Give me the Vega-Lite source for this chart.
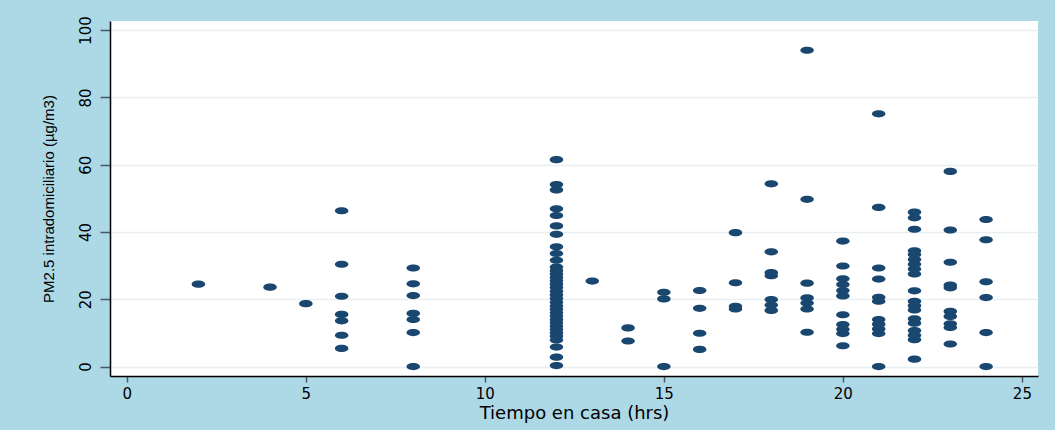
{
  "$schema": "https://vega.github.io/schema/vega-lite/v6.json",
  "autosize": {"type": "none"},
  "width": 928,
  "height": 355,
  "padding": {"left": 110, "top": 21, "right": 17, "bottom": 54},
  "background": "#add8e6",
  "config": {
    "view": {"fill": "white", "stroke": null},
    "axis": {"labelFont": "DejaVu Sans", "titleFont": "Liberation Sans", "labelColor": "#000000", "titleColor": "#000000", "titleFontWeight": "normal"}
  },
  "data": {
    "values": [
      {"t": 2, "pm": 24.5},
      {"t": 4, "pm": 23.6},
      {"t": 5, "pm": 18.7},
      {"t": 6, "pm": 46.3}, {"t": 6, "pm": 30.4}, {"t": 6, "pm": 20.9}, {"t": 6, "pm": 15.5}, {"t": 6, "pm": 13.6}, {"t": 6, "pm": 9.3}, {"t": 6, "pm": 5.4},
      {"t": 8, "pm": 29.3}, {"t": 8, "pm": 24.6}, {"t": 8, "pm": 21.1}, {"t": 8, "pm": 15.8}, {"t": 8, "pm": 14.0}, {"t": 8, "pm": 10.1}, {"t": 8, "pm": 0},
      {"t": 12, "pm": 61.5}, {"t": 12, "pm": 54.1}, {"t": 12, "pm": 52.5}, {"t": 12, "pm": 46.9}, {"t": 12, "pm": 44.9}, {"t": 12, "pm": 41.8}, {"t": 12, "pm": 39.3}, {"t": 12, "pm": 35.6}, {"t": 12, "pm": 33.6}, {"t": 12, "pm": 31.6}, {"t": 12, "pm": 29.6}, {"t": 12, "pm": 28.5}, {"t": 12, "pm": 27.5}, {"t": 12, "pm": 26.5}, {"t": 12, "pm": 25.5}, {"t": 12, "pm": 24.5}, {"t": 12, "pm": 23.5}, {"t": 12, "pm": 22.4}, {"t": 12, "pm": 21.3}, {"t": 12, "pm": 20.2}, {"t": 12, "pm": 19.1}, {"t": 12, "pm": 18.0}, {"t": 12, "pm": 17.0}, {"t": 12, "pm": 16.0}, {"t": 12, "pm": 15.0}, {"t": 12, "pm": 14.0}, {"t": 12, "pm": 13.0}, {"t": 12, "pm": 12.0}, {"t": 12, "pm": 11.0}, {"t": 12, "pm": 10.0}, {"t": 12, "pm": 9.0}, {"t": 12, "pm": 7.9}, {"t": 12, "pm": 5.8}, {"t": 12, "pm": 2.8}, {"t": 12, "pm": 0.3},
      {"t": 13, "pm": 25.4},
      {"t": 14, "pm": 11.5}, {"t": 14, "pm": 7.6},
      {"t": 15, "pm": 22.1}, {"t": 15, "pm": 20.1}, {"t": 15, "pm": 0},
      {"t": 16, "pm": 22.6}, {"t": 16, "pm": 17.3}, {"t": 16, "pm": 9.9}, {"t": 16, "pm": 5.1},
      {"t": 17, "pm": 39.8}, {"t": 17, "pm": 24.9}, {"t": 17, "pm": 17.9}, {"t": 17, "pm": 17.1},
      {"t": 18, "pm": 54.3}, {"t": 18, "pm": 34.1}, {"t": 18, "pm": 27.9}, {"t": 18, "pm": 27.0}, {"t": 18, "pm": 19.9}, {"t": 18, "pm": 18.3}, {"t": 18, "pm": 16.7},
      {"t": 19, "pm": 94.0}, {"t": 19, "pm": 49.7}, {"t": 19, "pm": 24.8}, {"t": 19, "pm": 20.4}, {"t": 19, "pm": 18.9}, {"t": 19, "pm": 17.1}, {"t": 19, "pm": 10.2},
      {"t": 20, "pm": 37.3}, {"t": 20, "pm": 29.9}, {"t": 20, "pm": 26.1}, {"t": 20, "pm": 24.4}, {"t": 20, "pm": 22.6}, {"t": 20, "pm": 21.0}, {"t": 20, "pm": 15.4}, {"t": 20, "pm": 12.5}, {"t": 20, "pm": 11.1}, {"t": 20, "pm": 9.8}, {"t": 20, "pm": 6.2},
      {"t": 21, "pm": 75.1}, {"t": 21, "pm": 47.3}, {"t": 21, "pm": 29.3}, {"t": 21, "pm": 26.0}, {"t": 21, "pm": 20.6}, {"t": 21, "pm": 19.4}, {"t": 21, "pm": 14.0}, {"t": 21, "pm": 12.6}, {"t": 21, "pm": 11.2}, {"t": 21, "pm": 9.8}, {"t": 21, "pm": 0},
      {"t": 22, "pm": 45.9}, {"t": 22, "pm": 44.2}, {"t": 22, "pm": 40.8}, {"t": 22, "pm": 34.4}, {"t": 22, "pm": 33.3}, {"t": 22, "pm": 31.8}, {"t": 22, "pm": 30.4}, {"t": 22, "pm": 29.0}, {"t": 22, "pm": 27.5}, {"t": 22, "pm": 22.5}, {"t": 22, "pm": 19.4}, {"t": 22, "pm": 18.1}, {"t": 22, "pm": 16.8}, {"t": 22, "pm": 14.2}, {"t": 22, "pm": 12.9}, {"t": 22, "pm": 10.7}, {"t": 22, "pm": 9.3}, {"t": 22, "pm": 8.0}, {"t": 22, "pm": 2.2},
      {"t": 23, "pm": 58.0}, {"t": 23, "pm": 40.6}, {"t": 23, "pm": 31.0}, {"t": 23, "pm": 24.2}, {"t": 23, "pm": 23.4}, {"t": 23, "pm": 16.4}, {"t": 23, "pm": 14.9}, {"t": 23, "pm": 12.7}, {"t": 23, "pm": 11.6}, {"t": 23, "pm": 6.7},
      {"t": 24, "pm": 43.7}, {"t": 24, "pm": 37.7}, {"t": 24, "pm": 25.2}, {"t": 24, "pm": 20.5}, {"t": 24, "pm": 10.1}, {"t": 24, "pm": 0}
    ]
  },
  "mark": {
    "type": "point",
    "filled": true,
    "opacity": 1,
    "color": "#1a476f",
    "shape": "M-1,0A1,0.53,0,1,0,1,0A1,0.53,0,1,0,-1,0Z",
    "size": 182
  },
  "encoding": {
    "x": {
      "field": "t",
      "type": "quantitative",
      "scale": {"domain": [-0.47, 25.45], "nice": false, "zero": false},
      "axis": {
        "title": "Tiempo en casa (hrs)",
        "values": [0, 5, 10, 15, 20, 25],
        "grid": false,
        "domainColor": "#000000",
        "domainWidth": 1.5,
        "tickColor": "#4b5a60",
        "tickWidth": 1.5,
        "tickSize": 6,
        "labelFontSize": 15,
        "labelPadding": 4,
        "labelFlush": false,
        "titleFont": "DejaVu Sans",
        "titleFontSize": 18,
        "titlePadding": 3
      }
    },
    "y": {
      "field": "pm",
      "type": "quantitative",
      "scale": {"domain": [-2.8, 102.7], "nice": false, "zero": false},
      "axis": {
        "title": "PM2.5 intradomiciliario (µg/m3)",
        "values": [0, 20, 40, 60, 80, 100],
        "grid": true,
        "gridColor": "#e8eff1",
        "gridWidth": 1.5,
        "domainColor": "#000000",
        "domainWidth": 1.5,
        "tickColor": "#4b5a60",
        "tickWidth": 1.5,
        "tickSize": 10,
        "labelFontSize": 15,
        "labelAngle": -90,
        "labelAlign": "center",
        "labelBaseline": "bottom",
        "labelPadding": 7,
        "labelFlush": false,
        "titleFontSize": 15,
        "titlePadding": 22
      }
    }
  }
}
